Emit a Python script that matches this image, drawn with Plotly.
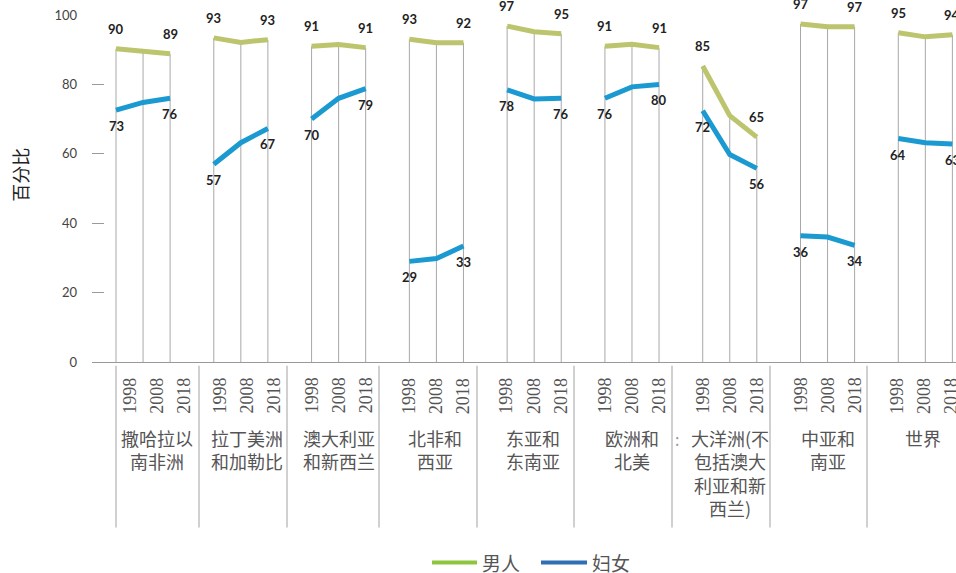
import plotly.graph_objects as go

# ---------------- data ----------------
groups = ["撒哈拉以<br>南非洲", "拉丁美洲<br>和加勒比", "澳大利亚<br>和新西兰", "北非和<br>西亚",
          "东亚和<br>东南亚", "欧洲和<br>北美", "大洋洲(不<br>包括澳大<br>利亚和新<br>西兰)",
          "中亚和<br>南亚", "世界"]
years = ["1998", "2008", "2018"]
men = [
    [90.3, 89.5, 88.8],
    [93.4, 92.1, 92.9],
    [91.0, 91.5, 90.6],
    [93.0, 92.0, 92.0],
    [96.8, 95.2, 94.6],
    [91.0, 91.6, 90.6],
    [85.3, 71.0, 64.8],
    [97.4, 96.6, 96.6],
    [94.9, 93.7, 94.3],
]
women = [
    [72.6, 74.8, 76.0],
    [57.0, 63.2, 67.3],
    [70.0, 76.0, 78.8],
    [29.0, 29.8, 33.4],
    [78.4, 75.8, 76.0],
    [76.0, 79.3, 80.0],
    [72.4, 59.8, 55.8],
    [36.4, 36.0, 33.6],
    [64.4, 63.2, 62.8],
]
series_names = ["男人", "妇女"]

# ---------------- layout constants (pixel coordinates) ----------------
W, H = 956, 573
PL, PR, PT, PB = 92, 956, 15, 362.3
UNIT = 27.05          # px per year step
X0PX = 116            # px of first point
GSTEP = 3.615         # group step in year units
LABEL_SHIFT_PX = [14, 6, 0, -1, -1, 0, 0, 0, -2]   # label offsets under each group

MEN_C = "#bcc56e"
WOM_C = "#1a9ad0"
LEG_MEN = "#8cc63f"
LEG_WOM = "#2f6fb4"


def xpos(i, j):
    return i * GSTEP + j


def px2x(px):
    return (px - X0PX) / UNIT


def px2py(py):
    return (PB - py) / (PB - PT)


def px2paperx(px):
    return (px - PL) / (PR - PL)


fig = go.Figure()

# thin vertical gray lines from 0 to men value
vx, vy = [], []
for i in range(len(groups)):
    for j in range(3):
        vx += [xpos(i, j), xpos(i, j), None]
        vy += [0, men[i][j], None]
fig.add_trace(go.Scatter(x=vx, y=vy, mode="lines", line=dict(color="#a8a8a8", width=1),
                         hoverinfo="skip", showlegend=False))

for vals, color in [(men, MEN_C), (women, WOM_C)]:
    xs, ys = [], []
    for i in range(len(groups)):
        for j in range(3):
            xs.append(xpos(i, j))
            ys.append(vals[i][j])
        xs.append(None)
        ys.append(None)
    fig.add_trace(go.Scatter(x=xs, y=ys, mode="lines", line=dict(color=color, width=5),
                             showlegend=False, cliponaxis=False))

annotations = []
# data labels
for i in range(len(groups)):
    for j in (0, 2):
        annotations.append(dict(x=xpos(i, j), y=men[i][j], text=f"{men[i][j]:.0f}",
                                showarrow=False, yshift=20, xanchor="center", yanchor="middle",
                                font=dict(family="Lato", size=13, color="#222222", weight="bold")))
        annotations.append(dict(x=xpos(i, j), y=women[i][j], text=f"{women[i][j]:.0f}",
                                showarrow=False, yshift=-16, xanchor="center", yanchor="middle",
                                font=dict(family="Lato", size=13, color="#222222", weight="bold")))

# year labels (rotated) under each point
for i in range(len(groups)):
    for j, yr in enumerate(years):
        annotations.append(dict(x=xpos(i, j), y=px2py(376), xref="x", yref="paper", text=yr,
                                showarrow=False, textangle=-90, xanchor="center", yanchor="top",
                                xshift=LABEL_SHIFT_PX[i],
                                font=dict(family="Liberation Serif", size=18, color="#555555")))

# category labels
for i, g in enumerate(groups):
    annotations.append(dict(x=xpos(i, 1), y=px2py(423), xref="x", yref="paper", text=g,
                            showarrow=False, xanchor="center", yanchor="top",
                            xshift=LABEL_SHIFT_PX[i], align="center",
                            font=dict(family="Noto Sans CJK SC", size=18, color="#555555")))

# stray colon near Oceania label
annotations.append(dict(x=px2paperx(677), y=px2py(439), xref="paper", yref="paper", text=":",
                        showarrow=False, xanchor="center", yanchor="middle",
                        font=dict(family="Noto Sans CJK SC", size=16, color="#9a9a9a")))

# y-axis title
annotations.append(dict(x=px2paperx(20), y=px2py(175), xref="paper", yref="paper", text="百分比",
                        showarrow=False, textangle=-90, xanchor="center", yanchor="middle",
                        font=dict(family="Noto Sans CJK SC", size=18, color="#222222")))

# legend (manual)
legend_items = [(series_names[0], LEG_MEN, 432, 477, 480), (series_names[1], LEG_WOM, 541, 587, 590)]
shapes = []
for name, col, x1, x2, tx in legend_items:
    shapes.append(dict(type="line", xref="paper", yref="paper",
                       x0=px2paperx(x1), x1=px2paperx(x2), y0=px2py(563), y1=px2py(563),
                       line=dict(color=col, width=4)))
    annotations.append(dict(x=px2paperx(tx), y=px2py(563), xref="paper", yref="paper", text=name,
                            showarrow=False, xanchor="left", yanchor="middle",
                            font=dict(family="Noto Sans CJK SC", size=19, color="#555555")))

# group separators below the axis
for sx in [116, 199, 287, 379, 477, 574, 672, 770, 867]:
    shapes.append(dict(type="line", xref="x", yref="paper", x0=px2x(sx), x1=px2x(sx),
                       y0=px2py(366), y1=px2py(528), line=dict(color="#d0d0d0", width=2)))

fig.update_layout(
    width=W, height=H,
    margin=dict(l=PL, r=W - PR, t=PT, b=H - PB),
    paper_bgcolor="white", plot_bgcolor="white",
    showlegend=False,
    annotations=annotations,
    shapes=shapes,
    xaxis=dict(range=[px2x(PL), px2x(PR)], showticklabels=False,
               ticks="", showgrid=False, zeroline=False,
               showline=True, linecolor="#999999", linewidth=1),
    yaxis=dict(range=[0, 100], tickvals=[0, 20, 40, 60, 80, 100], ticks="inside", ticklen=12,
               tickcolor="#9a9a9a", showgrid=False, zeroline=False, showline=False,
               tickfont=dict(family="Lato", size=13, color="#444444"),
               ticklabelstandoff=14),
)

fig.write_html("out.html", config={"displayModeBar": False},
               post_script="document.body.style.margin='0px';")
